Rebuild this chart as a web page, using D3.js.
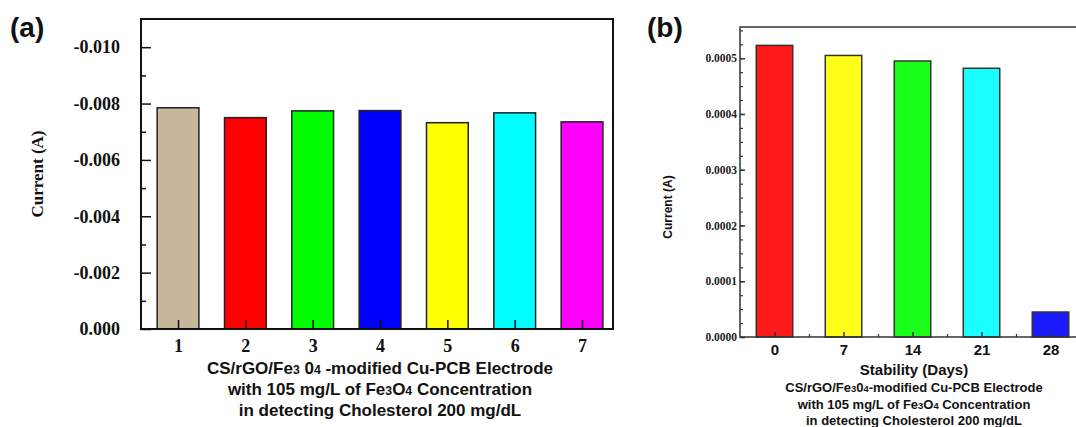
<!DOCTYPE html>
<html>
<head>
<meta charset="utf-8">
<script src="https://cdn.jsdelivr.net/npm/d3@7"></script>
<style>
  body { margin: 0; background: #fff; }
  svg { display: block; }
</style>
</head>
<body>
<svg id="canvas" width="1076" height="427"></svg>
<script>
// panel (a): repeatability, 7 electrodes
const electrodes = [1, 2, 3, 4, 5, 6, 7];
const currentA = [-0.00785, -0.0075, -0.00774, -0.00775, -0.00732, -0.00767, -0.00735];
const colorsA = ["#c8b89b", "#ff0000", "#00ff00", "#0000ff", "#ffff00", "#00ffff", "#ff00ff"];
const yTicksA = [0, -0.002, -0.004, -0.006, -0.008, -0.01];
const yMinorA = [-0.001, -0.003, -0.005, -0.007, -0.009];

// panel (b): stability over days
const days = [0, 7, 14, 21, 28];
const currentB = [0.000523, 0.000505, 0.000495, 0.000482, 0.0000448];
const colorsB = ["#ff1a1a", "#ffff1a", "#1aff1a", "#1affff", "#1a1aff"];
const yTicksB = [0, 0.0001, 0.0002, 0.0003, 0.0004, 0.0005];
const yMinorB = d3.range(0, 0.00056, 0.000025);
const xMinorB = [3.5, 10.5, 17.5, 24.5];

const svg = d3.select("#canvas");
const serif = "'Liberation Serif', 'Times New Roman', serif";
const sans = "'Liberation Sans', Arial, sans-serif";

function subText(sel, parts) {
  // parts: [text, isSub]
  parts.forEach(([t, sub]) => {
    sel.append("tspan").text(t).attr("font-size", sub ? "0.72em" : null);
  });
}

// ---------- panel (a) ----------
function drawA() {
  const left = 141, right = 613, top = 19, bottom = 329;
  const x = d3.scaleLinear().domain([0.45, 7.46]).range([left, right]);
  const y = d3.scaleLinear().domain([0, -0.011]).range([bottom, top]);
  const bw = x(0.62) - x(0);
  const g = svg.append("g");

  g.selectAll("rect.bar")
    .data(electrodes)
    .enter()
    .append("rect")
    .attr("class", "bar")
    .attr("x", (d, i) => x(d) - bw / 2)
    .attr("y", (d, i) => y(currentA[i]))
    .attr("width", bw)
    .attr("height", (d, i) => y(0) - y(currentA[i]))
    .attr("fill", (d, i) => colorsA[i])
    .attr("stroke", "#222")
    .attr("stroke-width", 1.5);

  // minor y ticks
  g.append("g")
    .attr("transform", `translate(${left},0)`)
    .call(d3.axisLeft(y).tickValues(yMinorA).tickSize(-5).tickFormat(""))
    .call(a => a.select(".domain").remove())
    .selectAll("line").attr("stroke", "#111").attr("stroke-width", 1.5);

  const ya = g.append("g")
    .attr("transform", `translate(${left},0)`)
    .call(d3.axisLeft(y).tickValues(yTicksA).tickSize(-10).tickPadding(21)
      .tickFormat(d => d.toFixed(3)));
  ya.select(".domain").remove();
  ya.selectAll("line").attr("stroke", "#111").attr("stroke-width", 1.5);
  ya.selectAll("text")
    .attr("font-family", serif).attr("font-weight", "bold")
    .attr("font-size", 18).attr("fill", "#111");

  const xa = g.append("g")
    .attr("transform", `translate(0,${bottom})`)
    .call(d3.axisBottom(x).tickValues(electrodes).tickSize(-9).tickPadding(10)
      .tickFormat(d3.format("d")));
  xa.select(".domain").remove();
  xa.selectAll("line").attr("stroke", "#111").attr("stroke-width", 1.5);
  xa.selectAll("text")
    .attr("font-family", serif).attr("font-weight", "bold")
    .attr("font-size", 18).attr("fill", "#111");

  g.append("rect")
    .attr("x", left).attr("y", top)
    .attr("width", right - left).attr("height", bottom - top)
    .attr("fill", "none").attr("stroke", "#111").attr("stroke-width", 2);

  g.append("text")
    .attr("transform", `translate(43,${(top + bottom) / 2}) rotate(-90)`)
    .attr("text-anchor", "middle")
    .attr("font-family", serif).attr("font-weight", "bold").attr("font-size", 17)
    .attr("fill", "#111")
    .text("Current (A)");

  const cx = (left + right) / 2 + 3;
  const lines = [
    [["CS/rGO/Fe", 0], ["3", 1], [" 0", 0], ["4", 1], [" -modified Cu-PCB Electrode", 0]],
    [["with 105 mg/L of Fe", 0], ["3", 1], ["O", 0], ["4", 1], [" Concentration", 0]],
    [["in detecting Cholesterol 200 mg/dL", 0]]
  ];
  lines.forEach((parts, i) => {
    const t = g.append("text")
      .attr("x", cx).attr("y", 374 + i * 21)
      .attr("text-anchor", "middle")
      .attr("font-family", sans).attr("font-weight", "bold").attr("font-size", 17)
      .attr("fill", "#111");
    subText(t, parts);
  });

  g.append("text")
    .attr("x", 10).attr("y", 37)
    .attr("font-family", sans).attr("font-weight", "bold").attr("font-size", 28)
    .attr("fill", "#111")
    .text("(a)");
}

// ---------- panel (b) ----------
function drawB() {
  const left = 740, right = 1085, top = 27, bottom = 337;
  const x = d3.scaleLinear().domain([-3.5, 31.5]).range([left, right]);
  const y = d3.scaleLinear().domain([0, 0.000556]).range([bottom, top]);
  const bw = x(3.7) - x(0);
  const g = svg.append("g");

  g.selectAll("rect.bar")
    .data(days)
    .enter()
    .append("rect")
    .attr("class", "bar")
    .attr("x", d => x(d) - bw / 2)
    .attr("y", (d, i) => y(currentB[i]))
    .attr("width", bw)
    .attr("height", (d, i) => y(0) - y(currentB[i]))
    .attr("fill", (d, i) => colorsB[i])
    .attr("stroke", "#333")
    .attr("stroke-width", 1.5);

  g.append("g")
    .attr("transform", `translate(${left},0)`)
    .call(d3.axisLeft(y).tickValues(yMinorB).tickSize(-3).tickFormat(""))
    .call(a => a.select(".domain").remove())
    .selectAll("line").attr("stroke", "#333").attr("stroke-width", 1.2);

  const ya = g.append("g")
    .attr("transform", `translate(${left},0)`)
    .call(d3.axisLeft(y).tickValues(yTicksB).tickSize(-5).tickPadding(3)
      .tickFormat(d => d.toFixed(4)));
  ya.select(".domain").remove();
  ya.selectAll("line").attr("stroke", "#333").attr("stroke-width", 1.5);
  ya.selectAll("text")
    .attr("font-family", serif).attr("font-weight", "bold")
    .attr("font-size", 11.5).attr("fill", "#222");

  g.append("g")
    .attr("transform", `translate(0,${bottom})`)
    .call(d3.axisBottom(x).tickValues(xMinorB).tickSize(-3).tickFormat(""))
    .call(a => a.select(".domain").remove())
    .selectAll("line").attr("stroke", "#333").attr("stroke-width", 1.2);

  const xa = g.append("g")
    .attr("transform", `translate(0,${bottom})`)
    .call(d3.axisBottom(x).tickValues(days).tickSize(-5).tickPadding(7)
      .tickFormat(d3.format("d")));
  xa.select(".domain").remove();
  xa.selectAll("line").attr("stroke", "#333").attr("stroke-width", 1.5);
  xa.selectAll("text")
    .attr("font-family", sans).attr("font-weight", "bold")
    .attr("font-size", 15).attr("fill", "#111");

  g.append("rect")
    .attr("x", left).attr("y", top)
    .attr("width", right - left).attr("height", bottom - top)
    .attr("fill", "none").attr("stroke", "#333").attr("stroke-width", 1.5);

  g.append("text")
    .attr("transform", `translate(672,207) rotate(-90)`)
    .attr("text-anchor", "middle")
    .attr("font-family", sans).attr("font-weight", "bold").attr("font-size", 12)
    .attr("fill", "#111")
    .text("Current (A)");

  const cx = 914;
  g.append("text")
    .attr("x", cx).attr("y", 375)
    .attr("text-anchor", "middle")
    .attr("font-family", sans).attr("font-weight", "bold").attr("font-size", 15)
    .attr("fill", "#111")
    .text("Stability (Days)");

  const lines = [
    [["CS/rGO/Fe", 0], ["3", 1], ["0", 0], ["4", 1], ["-modified Cu-PCB Electrode", 0]],
    [["with 105 mg/L of Fe", 0], ["3", 1], ["O", 0], ["4", 1], [" Concentration", 0]],
    [["in detecting Cholesterol 200 mg/dL", 0]]
  ];
  lines.forEach((parts, i) => {
    const t = g.append("text")
      .attr("x", cx).attr("y", 392 + i * 16.5)
      .attr("text-anchor", "middle")
      .attr("font-family", sans).attr("font-weight", "bold").attr("font-size", 13)
      .attr("fill", "#111");
    subText(t, parts);
  });

  g.append("text")
    .attr("x", 647).attr("y", 37)
    .attr("font-family", sans).attr("font-weight", "bold").attr("font-size", 28)
    .attr("fill", "#111")
    .text("(b)");
}

drawA();
drawB();
</script>
</body>
</html>
